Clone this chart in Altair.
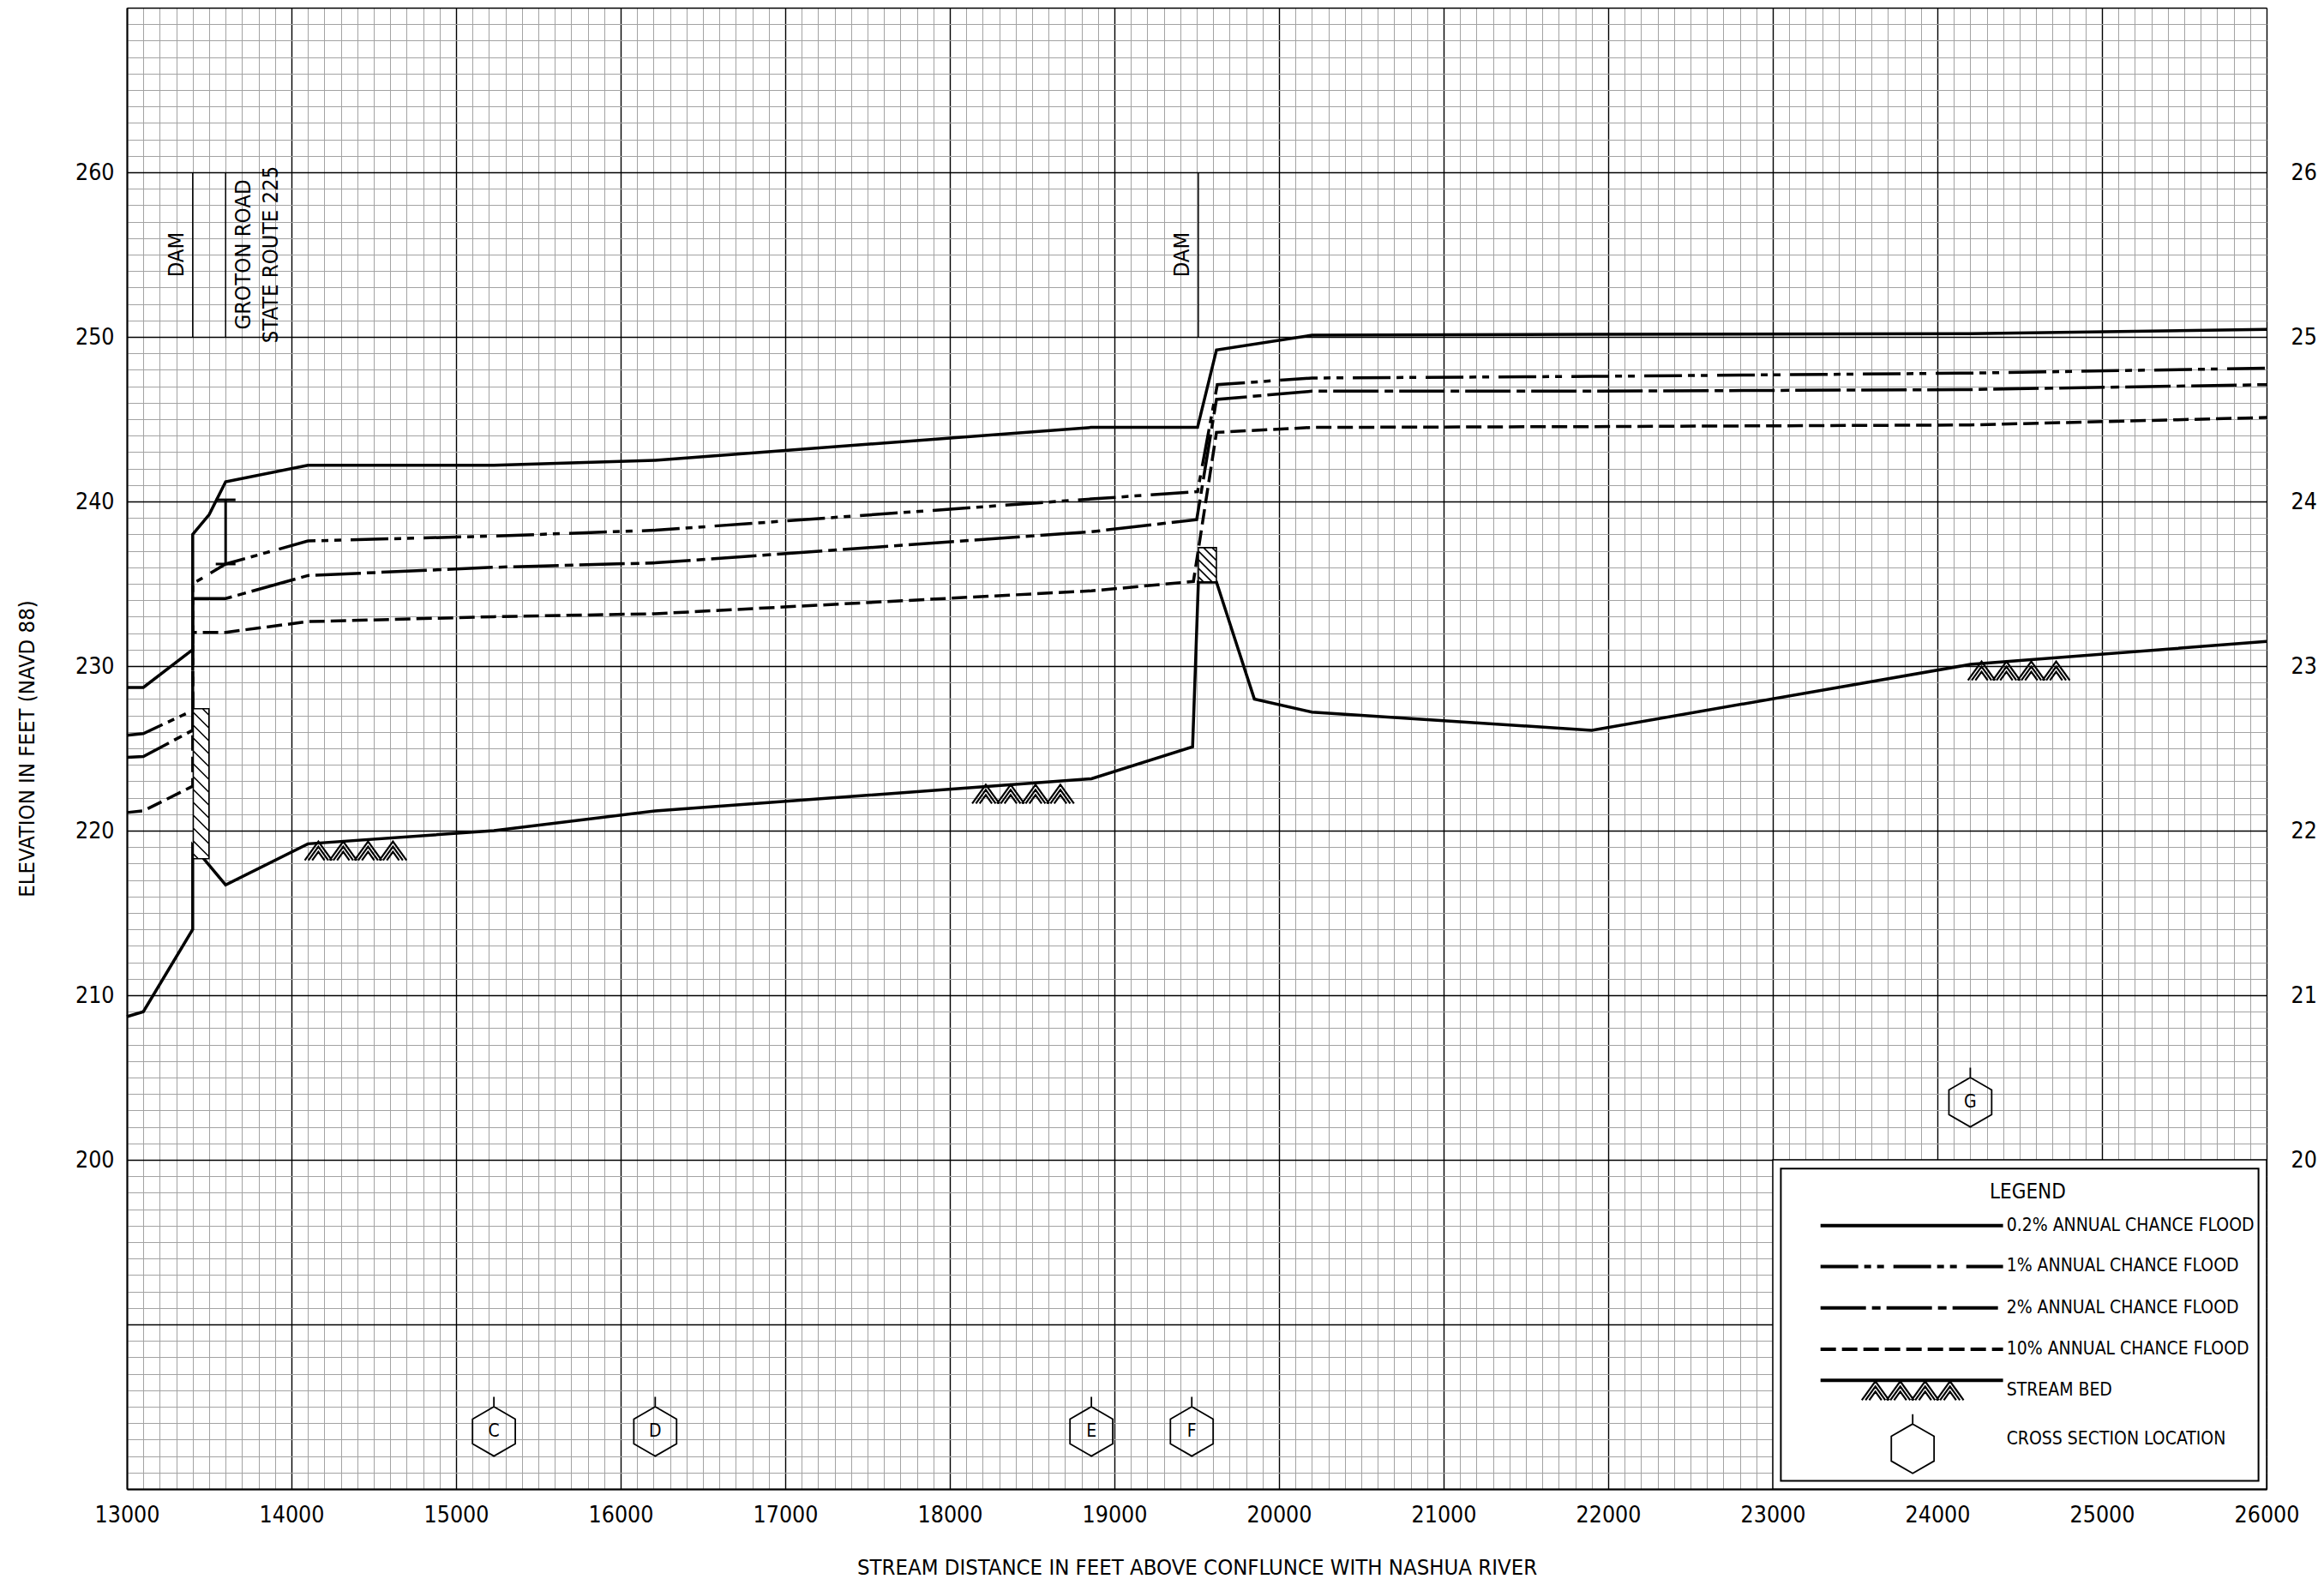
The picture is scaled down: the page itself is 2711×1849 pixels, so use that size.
import altair as alt
import pandas as pd

# ---------------- data ----------------
# 0.2% annual chance flood
DIST_02 = [13000, 13100, 13400, 13400, 13500, 13600, 14100, 15230, 16210, 18860, 19505, 19620, 20200, 21900, 24200, 26000]
ELEV_02 = [228.7, 228.7, 231.0, 238.0, 239.2, 241.2, 242.2, 242.2, 242.5, 244.5, 244.5, 249.2, 250.1, 250.15, 250.2, 250.45]
# 1% annual chance flood
DIST_1 = [13000, 13100, 13400, 13400, 13600, 14100, 15230, 16210, 18860, 19505, 19625, 20200, 21900, 24200, 26000]
ELEV_1 = [225.8, 225.9, 227.3, 235.0, 236.2, 237.6, 237.9, 238.25, 240.15, 240.6, 247.1, 247.5, 247.6, 247.8, 248.1]
# 2% annual chance flood
DIST_2 = [13000, 13100, 13400, 13400, 13600, 14100, 15230, 16210, 18860, 19500, 19620, 20200, 21900, 24200, 26000]
ELEV_2 = [224.45, 224.5, 226.1, 234.1, 234.1, 235.5, 236.0, 236.27, 238.16, 238.9, 246.2, 246.7, 246.7, 246.8, 247.1]
# 10% annual chance flood
DIST_10 = [13000, 13100, 13400, 13400, 13600, 14100, 15230, 16210, 18860, 19480, 19620, 20200, 21900, 24200, 26000]
ELEV_10 = [221.1, 221.2, 222.7, 232.05, 232.05, 232.7, 233.0, 233.18, 234.57, 235.14, 244.2, 244.5, 244.55, 244.65, 245.1]
# stream bed
DIST_BED = [13000, 13100, 13400, 13400, 13600, 14100, 15230, 16210, 18860, 19475, 19510, 19620, 19850, 20200, 21900, 24200, 26000]
ELEV_BED = [208.7, 209.0, 214.0, 219.1, 216.7, 219.2, 220.0, 221.2, 223.15, 225.1, 235.1, 235.1, 228.0, 227.2, 226.1, 230.1, 231.5]

# cross sections
XS_DIST = [15230, 16210, 18860, 19470, 24200]
XS_ELEV = [183.5, 183.5, 183.5, 183.5, 203.5]
XS_LABEL = ["C", "D", "E", "F", "G"]

# stream-bed symbol locations
BEDSYM_DIST = [14390, 18445, 24495]
BEDSYM_ELEV = [219.4, 222.85, 230.33]

# structures
STRUCT_DIST = [13400, 13600, 19510]
STRUCT_TEXT = ["DAM", "GROTON ROAD\nSTATE ROUTE 225", "DAM"]
STRUCT_TEXT_DIST = [13300, 13706, 19410]

LEGEND_LABELS = ["0.2% ANNUAL CHANCE FLOOD", "1% ANNUAL CHANCE FLOOD", "2% ANNUAL CHANCE FLOOD",
                 "10% ANNUAL CHANCE FLOOD", "STREAM BED", "CROSS SECTION LOCATION"]

X_TITLE = "STREAM DISTANCE IN FEET ABOVE CONFLUNCE WITH NASHUA RIVER"
Y_TITLE = "ELEVATION IN FEET (NAVD 88)"

# ---------------- layout / style ----------------
FONT = "'Liberation Sans Narrow', 'Arial Narrow', 'DejaVu Sans Condensed', sans-serif"
W, H = 2496, 1728
LW = 3.5
DASH_1 = [44, 7, 8, 7, 8, 11]
DASH_2 = [53, 7, 10, 7]
DASH_10 = [18, 7]
TICK_FS = 26.5
TITLE_FS = 25.5

xs = alt.Scale(domain=[13000, 26000], nice=False, zero=False)
ys = alt.Scale(domain=[180, 270], nice=False, zero=False)


def cond(test, a, b):
    return {"condition": {"test": test, "value": a}, "value": b}


grid_x_axis = alt.Axis(
    orient="bottom",
    values=list(range(13000, 26001, 100)),
    format="d",
    labelExpr="datum.value % 1000 === 0 ? datum.label : ''",
    labelFont=FONT, labelFontSize=TICK_FS, labelColor="black", labelPadding=30,
    labelBaseline="middle", labelFlush=False, labelOverlap=False, labelBound=False,
    ticks=False, domain=True, domainColor="black", domainWidth=2,
    grid=True,
    gridColor=cond("datum.value % 1000 === 0", "#000000", "#a3a3a3"),
    gridWidth=cond("datum.value % 1000 === 0", 1.4, 1.0),
    title=X_TITLE, titleFont=FONT, titleFontSize=TITLE_FS, titleFontWeight="normal", titleColor="black",
    titleX=W / 2, titleY=91, titleAlign="center", titleBaseline="middle", titleAngle=0,
)

grid_y_axis = alt.Axis(
    orient="left",
    values=list(range(180, 271)),
    format="d",
    labelExpr="(datum.value % 10 === 0 && datum.value >= 200 && datum.value <= 260) ? datum.label : ''",
    labelFont=FONT, labelFontSize=TICK_FS, labelColor="black", labelPadding=15,
    labelOverlap=False, labelBound=False,
    ticks=False, domain=True, domainColor="black", domainWidth=2,
    grid=True,
    gridColor=cond("datum.value % 10 === 0", "#000000", "#a3a3a3"),
    gridWidth=cond("datum.value % 10 === 0", 1.4, 1.0),
    title=Y_TITLE, titleFont=FONT, titleFontSize=TITLE_FS, titleFontWeight="normal", titleColor="black",
    titleX=-117, titleY=H / 2, titleAlign="center", titleBaseline="middle", titleAngle=270,
)

right_y_axis = alt.Axis(
    orient="right",
    values=[200, 210, 220, 230, 240, 250, 260],
    format="d",
    labelFont=FONT, labelFontSize=TICK_FS, labelColor="black", labelPadding=28,
    labelOverlap=False, labelBound=False,
    ticks=False, domain=False, grid=False, title=None,
)


def line_df(d, e):
    return pd.DataFrame({"dist": d, "elev": e, "i": list(range(len(d)))})


def flood_line(d, e, dash=None, x_axis=None, y_axis=None):
    kw = dict(color="black", strokeWidth=LW, strokeCap="butt", strokeJoin="miter")
    if dash:
        kw["strokeDash"] = dash
    return alt.Chart(line_df(d, e)).mark_line(**kw).encode(
        x=alt.X("dist:Q", scale=xs, axis=x_axis),
        y=alt.Y("elev:Q", scale=ys, axis=y_axis),
        order="i:Q",
    )


def X(field="x"):
    return alt.X(f"{field}:Q", scale=xs, axis=None)


def Y(field="y"):
    return alt.Y(f"{field}:Q", scale=ys, axis=None)


# ---- symbol paths ----
HEX = "M0,-1L0.866,-0.5L0.866,0.5L0,1L-0.866,0.5L-0.866,-0.5Z M0,-1L0,-1.4"
HEX_SIZE = 57.6 ** 2


def chevron_hatch_path(k=60.0):
    parts = []
    for cx in (-43.5, -14.5, 14.5, 43.5):
        for top in (1.0, 7.0, 13.0):
            hw = (23.0 - top) * 0.72
            parts.append("M{:.4f},{:.4f}L{:.4f},{:.4f}L{:.4f},{:.4f}".format(
                (cx - hw) / k, 23 / k, cx / k, top / k, (cx + hw) / k, 23 / k))
    return "".join(parts), (2 * k) ** 2


def hatched_box_path(w, h, step):
    k = max(w, h) / 2.0
    hw, hh = w / 2.0, h / 2.0
    parts = ["M{:.4f},{:.4f}L{:.4f},{:.4f}L{:.4f},{:.4f}L{:.4f},{:.4f}Z".format(
        -hw / k, -hh / k, hw / k, -hh / k, hw / k, hh / k, -hw / k, hh / k)]
    c = -hh - hw + step / 2.0
    while c < hh + hw:
        x1 = max(-hw, -hh - c)
        x2 = min(hw, hh - c)
        if x2 > x1:
            parts.append("M{:.4f},{:.4f}L{:.4f},{:.4f}".format(x1 / k, (x1 + c) / k, x2 / k, (x2 + c) / k))
        c += step
    return "".join(parts), (2 * k) ** 2


HATCH_PATH, HATCH_SIZE = chevron_hatch_path()
BOX1_PATH, BOX1_SIZE = hatched_box_path(18.3, 175.0, 15.0)
BOX2_PATH, BOX2_SIZE = hatched_box_path(21.0, 40.0, 10.0)

layers = []

# main lines (first one carries the grid axes)
layers.append(flood_line(DIST_02, ELEV_02, None, grid_x_axis, grid_y_axis))
layers.append(flood_line(DIST_1, ELEV_1, DASH_1))
layers.append(flood_line(DIST_2, ELEV_2, DASH_2))
layers.append(flood_line(DIST_10, ELEV_10, DASH_10))
layers.append(flood_line(DIST_BED, ELEV_BED, None, None, right_y_axis))

# dam boxes
for (bx, by, path, size) in [(13451, 222.85, BOX1_PATH, BOX1_SIZE), (19565, 236.15, BOX2_PATH, BOX2_SIZE)]:
    layers.append(
        alt.Chart(pd.DataFrame({"x": [bx], "y": [by]})).mark_point(
            shape=path, size=size, filled=True, fill="white", stroke="black", strokeWidth=1.6, opacity=1
        ).encode(x=X(), y=Y())
    )

# bridge marker at Groton Road
layers.append(alt.Chart(pd.DataFrame({"x": [13600], "y": [236.2], "y2": [240.1]})).mark_rule(
    color="black", strokeWidth=3).encode(x=X(), y=Y(), y2="y2:Q"))
layers.append(alt.Chart(pd.DataFrame({"x": [13540, 13540], "x2": [13660, 13660], "y": [240.1, 236.2]})).mark_rule(
    color="black", strokeWidth=3).encode(x=X(), x2="x2:Q", y=Y()))

# structure annotation lines and text
layers.append(alt.Chart(pd.DataFrame({"x": STRUCT_DIST, "y": [250] * 3, "y2": [260] * 3})).mark_rule(
    color="black", strokeWidth=1.5).encode(x=X(), y=Y(), y2="y2:Q"))
layers.append(alt.Chart(pd.DataFrame({"x": STRUCT_TEXT_DIST, "y": [255] * 3, "t": STRUCT_TEXT})).mark_text(
    angle=270, align="center", baseline="middle", font=FONT, fontSize=25.5, lineHeight=32,
    lineBreak="\n", color="black").encode(x=X(), y=Y(), text="t:N"))

# stream bed symbols
layers.append(alt.Chart(pd.DataFrame({"x": BEDSYM_DIST, "y": BEDSYM_ELEV})).mark_point(
    shape=HATCH_PATH, size=HATCH_SIZE, filled=False, stroke="black", strokeWidth=2.2, opacity=1
).encode(x=X(), y=Y()))

# cross section hexagons
xs_df = pd.DataFrame({"x": XS_DIST, "y": XS_ELEV, "t": XS_LABEL})
layers.append(alt.Chart(xs_df).mark_point(
    shape=HEX, size=HEX_SIZE, filled=False, stroke="black", strokeWidth=1.8, opacity=1
).encode(x=X(), y=Y()))
layers.append(alt.Chart(xs_df).mark_text(
    font=FONT, fontSize=21, align="center", baseline="middle", color="black"
).encode(x=X(), y=Y(), text="t:N"))

# ---------------- legend ----------------
layers.append(alt.Chart(pd.DataFrame({"x": [23000], "x2": [26000], "y": [180], "y2": [200]})).mark_rect(
    fill="white", stroke="black", strokeWidth=1.5).encode(x=X(), x2="x2:Q", y=Y(), y2="y2:Q"))
layers.append(alt.Chart(pd.DataFrame({"x": [23049], "x2": [25951], "y": [180.5], "y2": [199.46]})).mark_rect(
    fillOpacity=0, stroke="black", strokeWidth=2).encode(x=X(), x2="x2:Q", y=Y(), y2="y2:Q"))

LEG_X0, LEG_X1 = 23290, 24399
for yv, dash in [(196.0, None), (193.52, DASH_1), (191.0, DASH_2), (188.49, DASH_10), (186.6, None)]:
    kw = dict(color="black", strokeWidth=4, strokeCap="butt")
    if dash:
        kw["strokeDash"] = dash
    layers.append(alt.Chart(pd.DataFrame({"x": [LEG_X0], "x2": [LEG_X1], "y": [yv]})).mark_rule(**kw).encode(
        x=X(), x2="x2:Q", y=Y()))

layers.append(alt.Chart(pd.DataFrame({"x": [23850], "y": [186.6]})).mark_point(
    shape=HATCH_PATH, size=HATCH_SIZE, filled=False, stroke="black", strokeWidth=2.2, opacity=1
).encode(x=X(), y=Y()))
layers.append(alt.Chart(pd.DataFrame({"x": [23850], "y": [182.45]})).mark_point(
    shape=HEX, size=HEX_SIZE, filled=False, stroke="black", strokeWidth=1.8, opacity=1
).encode(x=X(), y=Y()))

layers.append(alt.Chart(pd.DataFrame({"x": [24549], "y": [198.0], "t": ["LEGEND"]})).mark_text(
    font=FONT, fontSize=24, align="center", baseline="middle", color="black").encode(x=X(), y=Y(), text="t:N"))
layers.append(alt.Chart(pd.DataFrame({"x": [24420] * 6, "y": [196.0, 193.52, 191.0, 188.49, 185.97, 183.0],
                                      "t": LEGEND_LABELS})).mark_text(
    font=FONT, fontSize=21, align="left", baseline="middle", color="black").encode(x=X(), y=Y(), text="t:N"))

chart = alt.layer(*layers).resolve_axis(x="independent", y="independent").properties(
    width=W, height=H,
    autosize=alt.AutoSizeParams(type="none"),
    padding={"left": 140, "top": 1, "right": 59, "bottom": 104},
).configure_view(strokeWidth=0).configure(background="white")

chart.save("out.html", embed_options={"renderer": "svg", "actions": False})
